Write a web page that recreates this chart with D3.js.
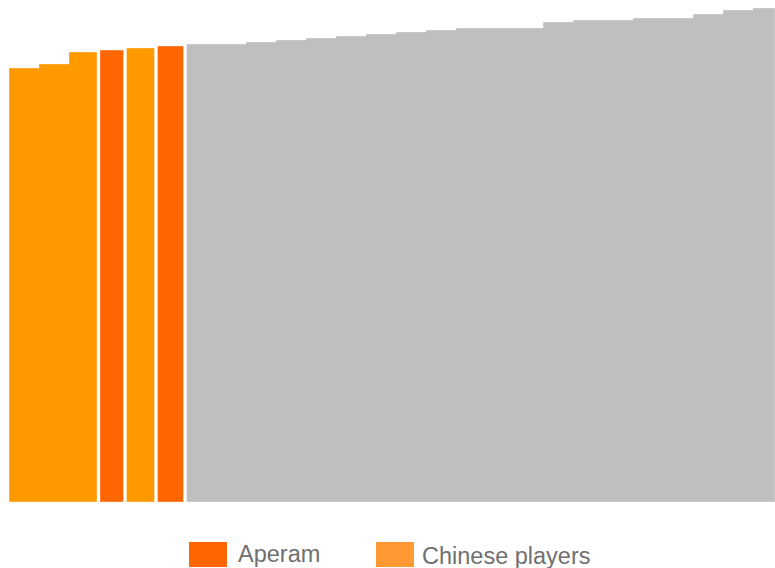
<!DOCTYPE html>
<html>
<head>
<meta charset="utf-8">
<script src="https://cdn.jsdelivr.net/npm/d3@7"></script>
<style>
  html, body { margin: 0; padding: 0; background: #fff; }
  svg { display: block; }
</style>
</head>
<body>
<svg id="chart" width="775" height="568"></svg>
<script>
// Cost curve data: capacity (kt) as bar width, cash cost ($/t) as bar height
const groups = ["Chinese players","Chinese players","Chinese players","Aperam","Chinese players","Aperam",
  "Others","Others","Others","Others","Others","Others","Others","Others","Others",
  "Others","Others","Others","Others","Others","Others"];
const blocks = [0,0,0,1,2,3,4,4,4,4,4,4,4,4,4,4,4,4,4,4,4];
const capacity = [300,300,295,265,310,290,
  610,300,300,300,300,300,300,300,870,300,600,600,300,300,220];
const cost = [2170,2190,2250,2260,2270,2280,
  2290,2300,2310,2320,2330,2340,2350,2360,2370,2400,2410,2420,2440,2460,2470];
const legendLabels = ["Aperam","Chinese players"];

const barColors = {"Chinese players":"#FF9900","Aperam":"#FF6600","Others":"#BFBFBF"};
const legendColors = {"Aperam":"#FF6600","Chinese players":"#FF9933"};

const svg = d3.select("#chart");
const total = d3.sum(capacity);
const x = d3.scaleLinear().domain([0, total]).range([9, 775]);
const y = d3.scaleLinear().domain([0, 2500]).range([502, 2]);

// cumulative positions
let acc = 0;
const bars = capacity.map((c, i) => {
  const d = {start: acc, end: acc + c, cost: cost[i], group: groups[i], block: blocks[i]};
  acc += c;
  return d;
});

const blockIds = Array.from(new Set(blocks));
const gap = 1.5;
blockIds.forEach((b, bi) => {
  const bs = bars.filter(d => d.block === b);
  const x0 = x(bs[0].start) + (bi > 0 ? gap : 0);
  const x1 = x(bs[bs.length - 1].end) - (bi < blockIds.length - 1 ? gap : 0);
  const pts = [];
  pts.push([x0, y(0)]);
  bs.forEach((d, i) => {
    const xs = i === 0 ? x0 : x(d.start);
    const xe = i === bs.length - 1 ? x1 : x(d.end);
    pts.push([xs, y(d.cost)]);
    pts.push([xe, y(d.cost)]);
  });
  pts.push([x1, y(0)]);
  svg.append("path")
    .attr("d", d3.line()(pts) + "Z")
    .attr("fill", barColors[bs[0].group])
    .attr("stroke", "#fff")
    .attr("stroke-opacity", 0.35)
    .attr("stroke-width", 1);
});

// legend
const legendX = [189, 376];
const textX = [238, 422];
const textY = [562, 564];
legendLabels.forEach((lab, i) => {
  svg.append("rect")
    .attr("x", legendX[i]).attr("y", 542)
    .attr("width", 38).attr("height", 25)
    .attr("fill", legendColors[lab]);
  svg.append("text")
    .attr("x", textX[i]).attr("y", textY[i])
    .attr("font-family", "'Liberation Sans', Arial, sans-serif")
    .attr("font-size", "23.5px")
    .attr("fill", "#707070")
    .text(lab);
});
</script>
</body>
</html>
